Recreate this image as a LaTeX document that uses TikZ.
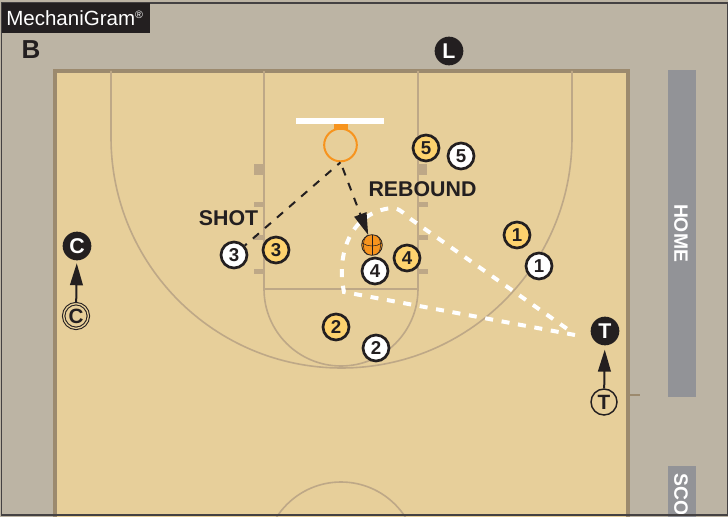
\documentclass[tikz,border=0pt]{standalone}
\usepackage{fontspec}
\setmainfont{Liberation Sans}
\usepackage{xcolor}
\usepackage{tikz}
\usetikzlibrary{arrows.meta}
\definecolor{courtfloor}{RGB}{231, 207, 154}
\definecolor{courtapron}{RGB}{188, 180, 164}
\definecolor{courtedge}{RGB}{156, 138, 110}
\definecolor{courtline}{RGB}{190, 168, 135}
\definecolor{benchgray}{RGB}{146, 147, 151}
\definecolor{inkblack}{RGB}{35, 31, 32}
\definecolor{teamgold}{RGB}{253, 210, 110}
\definecolor{rimorange}{RGB}{247, 148, 30}
\tikzset{
    player/.style={circle, draw=inkblack, line width=2pt, minimum size=19.5pt, inner sep=0pt, font=\fontsize{14}{14}\selectfont\bfseries, text=inkblack},
    whiteplayer/.style={player, fill=white},
    goldplayer/.style={player, fill=teamgold},
    official/.style={circle, fill=inkblack, text=white, minimum size=21.5pt, inner sep=0pt, font=\fontsize{16}{16}\selectfont\bfseries},
    oldofficial/.style={player, fill=courtfloor, line width=1.1pt, minimum size=19.5pt, font=\fontsize{15.5}{15.5}\selectfont\bfseries},
    calltext/.style={font=\fontsize{16}{16}\selectfont\bfseries, text=inkblack, inner sep=0pt},
    benchtext/.style={font=\fontsize{14.5}{14.5}\selectfont\bfseries, text=white, rotate=-90, inner sep=0pt},
    move/.style={-{Triangle[length=16.5pt, width=9.5pt]}, line width=1.5pt, color=inkblack},
    shotline/.style={line width=1.5pt, color=inkblack, dash pattern=on 6pt off 6pt},
    lookzone/.style={line width=3pt, color=white, dash pattern=on 6pt off 6.5pt},
}
\begin{document}
\begin{tikzpicture}[x=0.75pt, y=-0.75pt, >=Latex]
    \useasboundingbox (0,0) rectangle (728,517);
    \clip (0,0) rectangle (728,517);
    \fill[courtapron] (0,0) rectangle (728,517);

    % floor and lines
    \draw[fill=courtfloor, draw=courtedge, line width=2.6pt] (55,71) rectangle (628,530);
    \draw[courtline, line width=1.2pt] (264,71) -- (264,289) -- (418,289) -- (418,71);
    \draw[courtline, line width=1.2pt] (264,289) arc (180:0:77);
    \draw[courtline, line width=1.2pt] (111,71) -- (111,137.5) arc (180:0:230.5) -- (572,71);
    \draw[courtline, line width=1.2pt] (341,558.5) circle (76.5);
    \draw[courtedge, line width=0.8pt] (628,395) -- (640,395);

    % lane marks
    \foreach \y in {204,237,271} {
        \fill[courtline] (254,\y-2.5) rectangle (264,\y+2.5);
        \fill[courtline] (418,\y-2.5) rectangle (428,\y+2.5);
    }
    \fill[courtline] (254,164) rectangle (264,175);
    \fill[courtline] (418,164) rectangle (427,175);

    % benches
    \fill[benchgray] (668,70) rectangle (696,397);
    \fill[benchgray] (668,466) rectangle (696,517);
    \node[benchtext] (home) at (681,233) {HOME};
    \node[benchtext, anchor=west] (score) at (681,473) {SCO};

    % basket
    \fill[white] (296,118) rectangle (384,124);
    \fill[rimorange] (334,124) rectangle (348,130);
    \node[circle, draw=rimorange, line width=1.5pt, minimum size=24.5pt, inner sep=0pt] (rim) at (340.5,145) {};

    % coverage area
    \coordinate (zonestart) at (575,335);
    \coordinate (zoneend) at (573,333);
    \draw[lookzone] (zonestart) -- (344,292) .. controls (336,255) and (350,212) .. (392,208) .. controls (400,208) and (405,215) .. (412,220) -- (zoneend);

    % players
    \foreach \name/\px/\py/\num in {w1/539/266/1, w2/376/348/2, w3/234/255/3, w4/375/271/4, w5/461/156/5} {
        \node[whiteplayer] (\name) at (\px,\py) {\num};
    }
    \foreach \name/\px/\py/\num in {g1/517/235/1, g2/336/327/2, g3/276/250/3, g4/407/258/4, g5/426/148/5} {
        \node[goldplayer] (\name) at (\px,\py) {\num};
    }

    % ball
    \node[circle, fill=rimorange, draw=inkblack, line width=0.6pt, minimum size=15.5pt, inner sep=0pt] (ball) at (372,245) {};
    \draw[inkblack, line width=0.4pt] (362,243) .. controls (368,247) and (376,247) .. (382,243);
    \draw[inkblack, line width=0.4pt] (367,235.5) .. controls (362,241) and (362,249) .. (367,254.5);
    \draw[inkblack, line width=0.4pt] (372,235) -- (372,255);
    \draw[inkblack, line width=0.4pt] (377,235.5) .. controls (382,241) and (382,249) .. (377,254.5);

    % shot and rebound
    \draw[shotline, dash phase=4pt] (w3) -- (rim.south);
    \draw[shotline, -{Triangle[length=16.5pt, width=9.5pt]}, shorten <=4.5pt] (rim.south) -- (ball);

    % officials
    \node[official] (refL) at (449,51) {L};
    \node[official] (refC) at (77,246) {C};
    \node[official] (refT) at (605,331) {T};
    \node[oldofficial, double=courtfloor, double distance=1pt, line width=0.8pt, minimum size=18.5pt] (oldC) at (76,316) {C};
    \node[oldofficial] (oldT) at (604,402) {T};
    \draw[move, shorten >=2pt] (oldC) -- (refC);
    \draw[move, shorten >=3pt] (oldT) -- (refT);

    % labels
    \node[calltext] (shot) at (228.5,218) {SHOT};
    \node[calltext] (rebound) at (422.5,189) {REBOUND};
    \node[font=\fontsize{19.5}{19.5}\selectfont\bfseries, text=inkblack, inner sep=0pt] (baseline) at (31,49.5) {B};

    % frame and title
    \draw[inkblack!85, line width=0.9pt] (1.5,3) rectangle (727.5,515);
    \node[fill=inkblack, text=white, anchor=north west, minimum width=111pt, minimum height=22pt, inner sep=0pt, font=\fontsize{15.4}{15.4}\selectfont] (title) at (2,3) {\makebox[111pt][l]{\hspace{3pt}MechaniGram\raisebox{5pt}{\fontsize{8}{8}\selectfont®}}};
\end{tikzpicture}
\end{document}
